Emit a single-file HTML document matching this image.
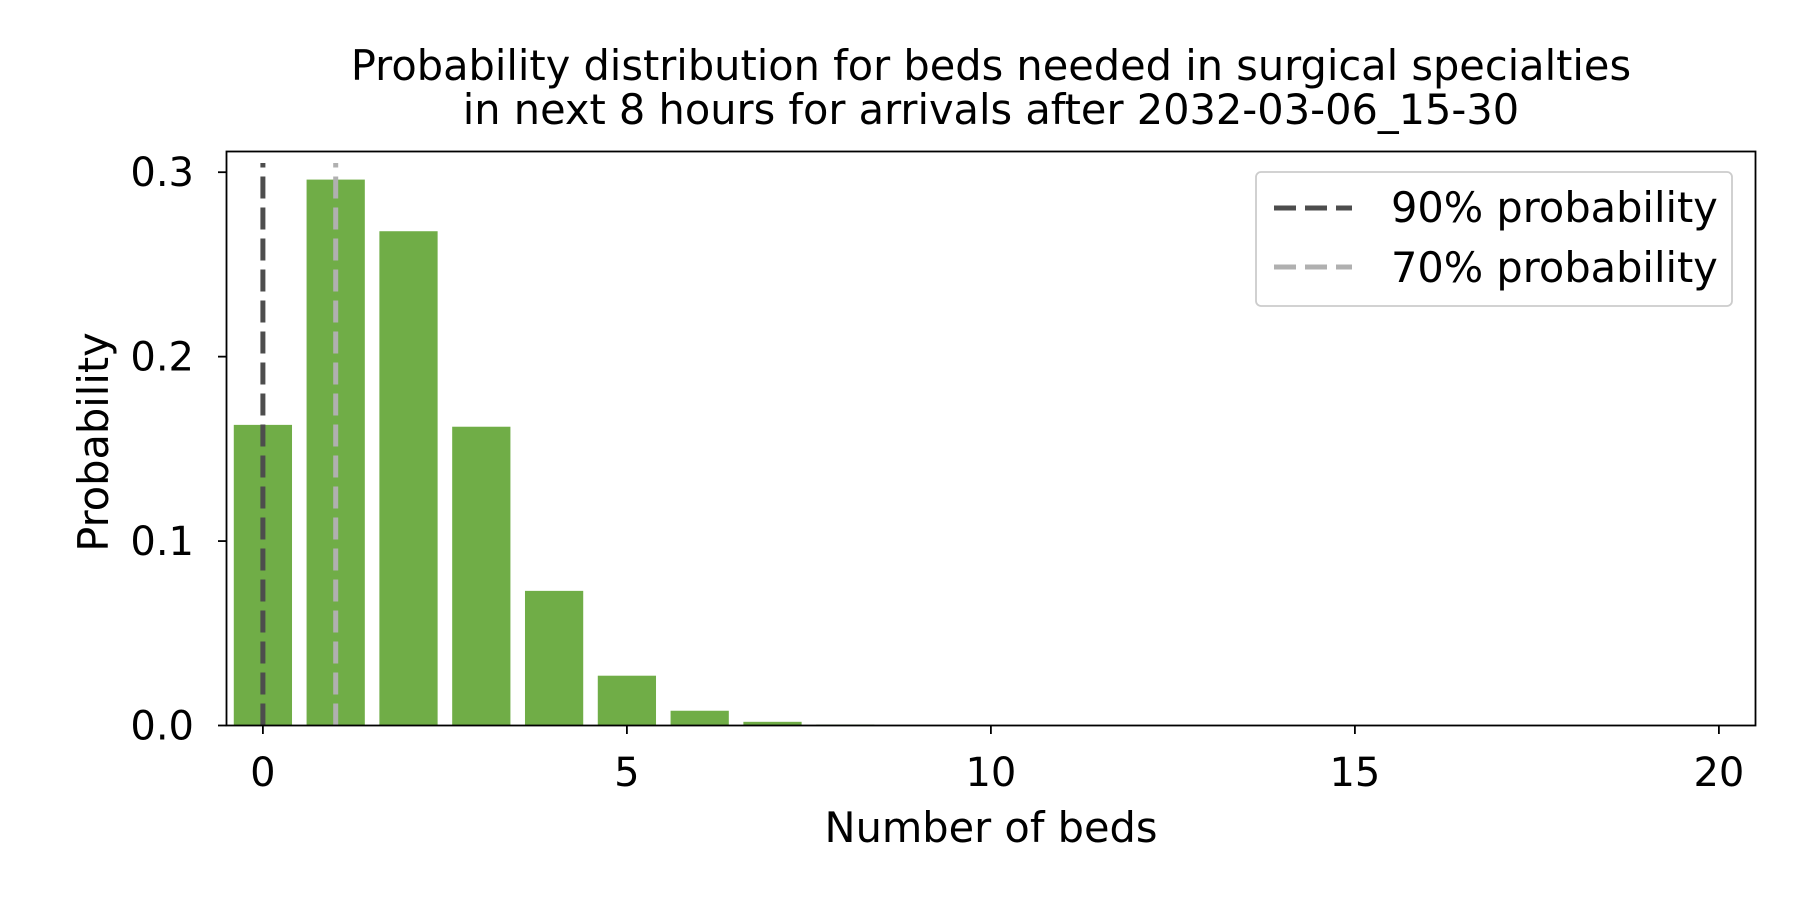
<!DOCTYPE html>
<html><head><meta charset="utf-8"><style>
html,body{margin:0;padding:0;background:#fff;}
svg text{font-family:"DejaVu Sans","Liberation Sans",sans-serif;fill:#000;}
</style></head><body>
<svg id="chart" width="1800" height="900" xmlns="http://www.w3.org/2000/svg">
<text x="991" y="80" font-size="41.5" text-anchor="middle">Probability distribution for beds needed in surgical specialties</text>
<text x="991" y="124" font-size="41.5" text-anchor="middle">in next 8 hours for arrivals after 2032-03-06_15-30</text>
<g id="bars"></g>
<g id="vlines"></g>
<rect x="226.5" y="151.5" width="1529" height="574" fill="none" stroke="#000" stroke-width="1.8"/>
<g id="xticks"></g><g id="yticks"></g>
<text x="991" y="842" font-size="41.5" text-anchor="middle">Number of beds</text>
<text transform="translate(108,442) rotate(-90)" font-size="41.5" text-anchor="middle">Probability</text>
<g>
<rect x="1256" y="172" width="476" height="134" rx="5" fill="#fff" stroke="#ccc" stroke-width="1.8"/>
<line x1="1274" y1="208" x2="1352" y2="208" stroke="#4d4d4d" stroke-width="5" stroke-dasharray="22,9"/>
<text x="1391" y="222" font-size="41.5">90% probability</text>
<line x1="1274" y1="267" x2="1352" y2="267" stroke="#b0b0b0" stroke-width="5" stroke-dasharray="22,9"/>
<text x="1391" y="282" font-size="41.5">70% probability</text>
</g>
</svg>
<script>
const beds=[0,1,2,3,4,5,6,7,8,9,10,11,12,13,14,15,16,17,18,19,20];
const probs=[0.163,0.296,0.268,0.162,0.073,0.027,0.008,0.002,0.0005,0.0001,0,0,0,0,0,0,0,0,0,0,0];
const xTicks=[0,5,10,15,20];
const yTicks=[0.0,0.1,0.2,0.3];
const p90=0, p70=1;
const NS="http://www.w3.org/2000/svg";
const X=v=>262.9+v*72.8;
const Y=v=>725.5-v*1844.3;
function mk(t,a,p){const e=document.createElementNS(NS,t);for(const k in a)e.setAttribute(k,a[k]);p.appendChild(e);return e;}
const gb=document.getElementById('bars');
beds.forEach((b,i)=>{if(probs[i]<=0)return;const r=mk('rect',{x:X(b-0.4),y:Y(probs[i]),width:X(0.8)-X(0),height:Y(0)-Y(probs[i]),fill:'#70ad47'},gb);

});
const gv=document.getElementById('vlines');
const l1=mk('line',{x1:X(p90),x2:X(p90),y1:Y(0),y2:Y(0.305),stroke:'#4d4d4d',"stroke-width":5,"stroke-dasharray":"22,9"},gv);


const l2=mk('line',{x1:X(p70),x2:X(p70),y1:Y(0),y2:Y(0.305),stroke:'#b0b0b0',"stroke-width":5,"stroke-dasharray":"22,9"},gv);


const gx=document.getElementById('xticks');
xTicks.forEach(t=>{mk('line',{x1:X(t),x2:X(t),y1:725.5,y2:734,stroke:'#000','stroke-width':1.8},gx);
const tx=mk('text',{x:X(t),y:786,'font-size':40,'text-anchor':'middle'},gx);tx.textContent=t;

});
const gy=document.getElementById('yticks');
yTicks.forEach(t=>{mk('line',{x1:218,x2:226.5,y1:Y(t),y2:Y(t),stroke:'#000','stroke-width':1.8},gy);
const tx=mk('text',{x:194,y:Y(t)+14,'font-size':40,'text-anchor':'end'},gy);tx.textContent=t.toFixed(1);

});
</script>
</body></html>
